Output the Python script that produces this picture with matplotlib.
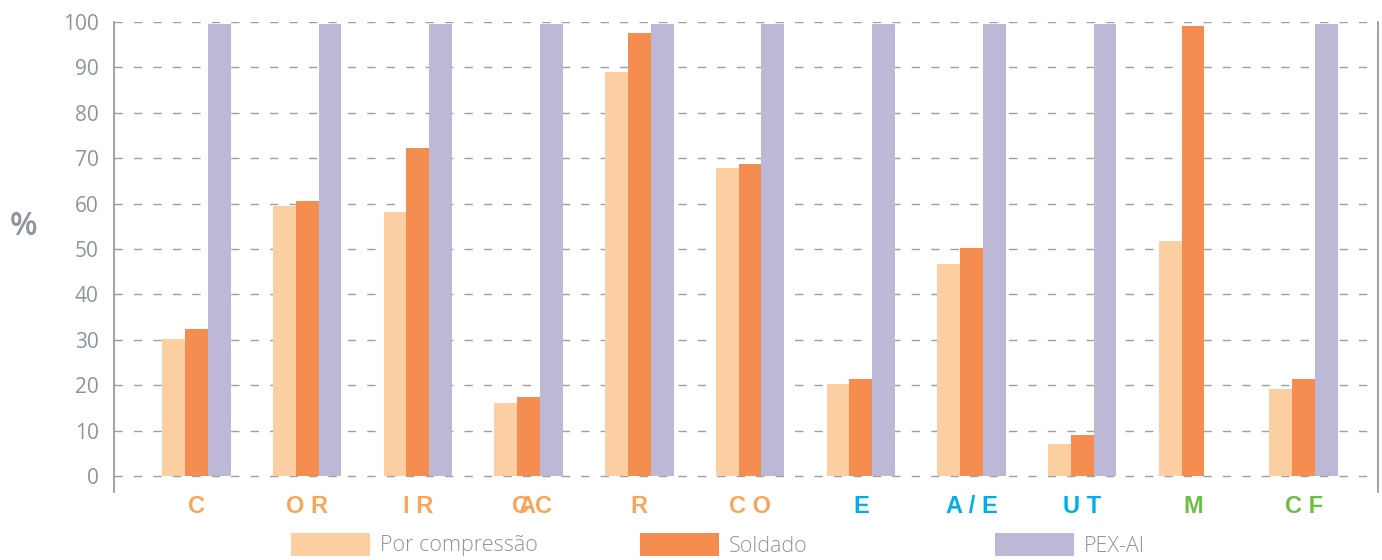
import matplotlib
matplotlib.use("Agg")
import matplotlib.pyplot as plt
import numpy as np
from matplotlib.patches import Rectangle

# data
categories   = ["C", "O R", "I R", "AC", "R", "C O", "E", "A / E", "U T", "M", "C F"]
label_colors = ["#F9A55A"] * 6 + ["#00AEEF"] * 3 + ["#6CBE45"] * 2
compressao   = [30.2, 59.5, 58.1, 16.1, 89.0, 67.8, 20.3, 46.7, 7.0, 51.8, 19.2]
soldado      = [32.4, 60.6, 72.2, 17.4, 97.6, 68.7, 21.4, 50.2, 9.0, 99.1, 21.4]
pex_al       = [99.5, 99.5, 99.5, 99.5, 99.5, 99.5, 99.5, 99.5, 99.5, 0.0, 99.5]
series_names = ["Por compressão", "Soldado", "PEX-AI"]
colors       = ["#FCCFA2", "#F68D50", "#BDB8D6"]
grey         = "#8D949C"

fig = plt.figure(figsize=(13.82, 5.6), dpi=100)
ax = fig.add_axes([0.0825, 0.1214, 0.9145, 0.8393])

x = np.arange(len(categories))
w = 0.206
for i, (vals, c) in enumerate(zip([compressao, soldado, pex_al], colors)):
    ax.bar(x + (i - 1) * w, vals, width=w, color=c, zorder=3, linewidth=0)

ax.set_xlim(-0.744, 10.67)
ax.set_ylim(-3.5, 100)
ax.set_yticks(np.arange(0, 101, 10))
ax.yaxis.grid(True, color="#9A9FA6", linestyle=(0, (6, 8)), linewidth=1, zorder=0)
ax.tick_params(axis="y", length=0, pad=11, labelsize=15, labelcolor=grey)
for t in ax.get_yticklabels():
    t.set_fontfamily("Open Sans")
ax.set_xticks([])

for side in ["top", "bottom"]:
    ax.spines[side].set_visible(False)
for side in ["left", "right"]:
    ax.spines[side].set_color("#8D949C")
    ax.spines[side].set_linewidth(1.2)

# category labels below the axis
lab_y = -0.03
for i, (lab, c) in enumerate(zip(categories, label_colors)):
    kw = dict(transform=ax.get_xaxis_transform(), ha="center", va="center",
              fontsize=17, fontweight="bold", color=c, family="Liberation Sans")
    if lab == "AC":
        # the source shows an overlapped "C" behind the "A"
        ax.text(i - 0.07, lab_y, "C", **kw)
        ax.text(i + 0.06, lab_y, "AC", **kw)
        continue
    ax.text(i, lab_y, lab, **kw)

fig.text(0.007, 0.595, "%", fontsize=23, color=grey, ha="left", va="center", family="Open Sans",
         fontweight="semibold")

# legend, drawn by hand because the entries are not evenly spaced
leg_x = [291, 640, 995]
for lx, name, c in zip(leg_x, series_names, colors):
    fig.patches.append(Rectangle((lx / 1382, 4 / 560), 79 / 1382, 23 / 560,
                                 transform=fig.transFigure, facecolor=c, edgecolor="none"))
    fig.text((lx + 89) / 1382, 14 / 560, name, fontsize=15.5, color=grey, ha="left",
             va="center", family="Open Sans", fontweight="light")

fig.savefig("out.png", dpi=100)
